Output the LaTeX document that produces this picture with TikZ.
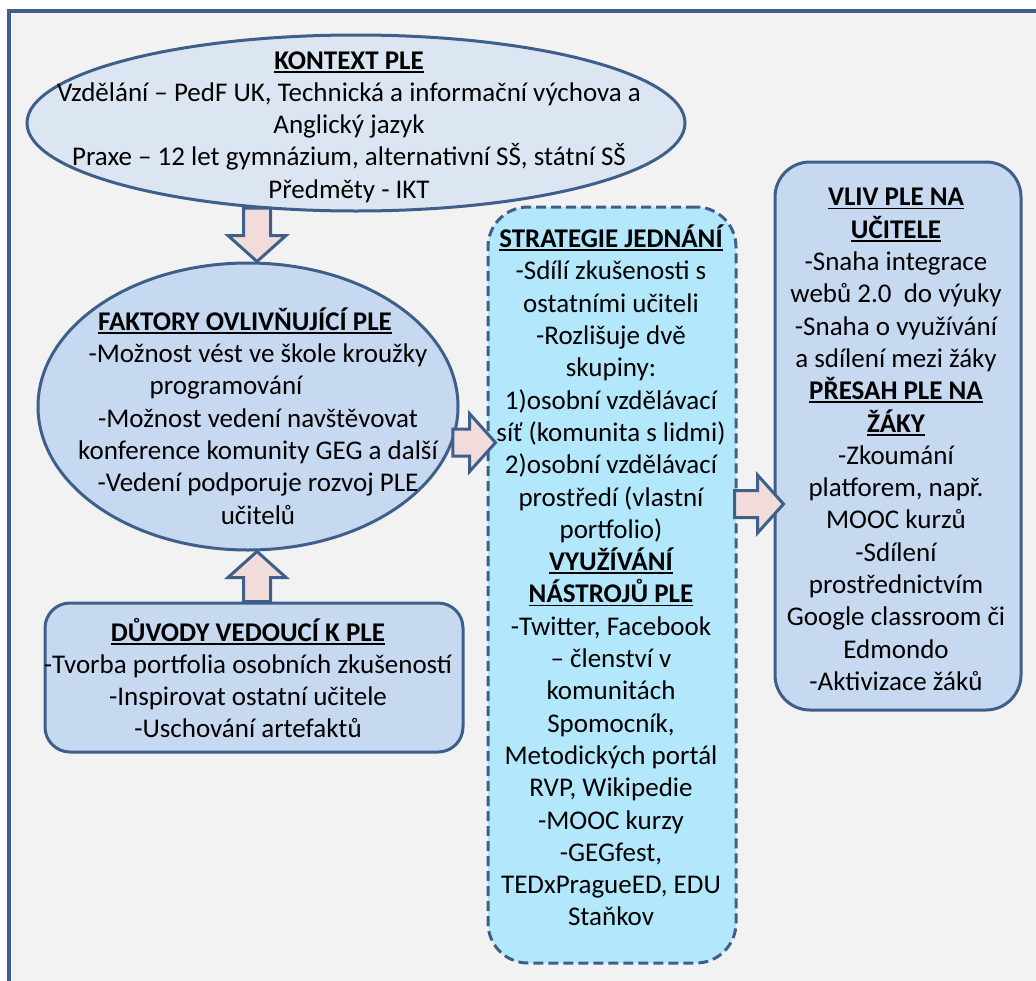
\documentclass[tikz,border=0pt]{standalone}
\usepackage{fontspec}
\setmainfont{Carlito}
\usetikzlibrary{calc,shapes.geometric}

\definecolor{frameblue}{HTML}{3F5F8B}
\definecolor{paneltint}{HTML}{F2F2F2}
\definecolor{palefill}{HTML}{DCE6F2}
\definecolor{bluefill}{HTML}{C6D9F1}
\definecolor{cyanfill}{HTML}{B3E8FC}
\definecolor{pinkfill}{HTML}{F2DCDB}

% bold heading with a thick underline
\newcommand\hd[1]{\setbox0\hbox{\bfseries #1}\rlap{\rule[-3.5pt]{\wd0}{1.8pt}}\box0}

% wide block arrow from #1 to #2
\newcommand\fatarrow[2]{%
  \draw[blockarrow] let \p1=(#1), \p2=(#2),
    \n1={atan2(\y2-\y1,\x2-\x1)}, \n2={veclen(\x2-\x1,\y2-\y1)} in
    ($(\p1)+(\n1+90:13.5pt)$)
    -- ($(\p1)+(\n1:\n2-26pt)+(\n1+90:13.5pt)$)
    -- ($(\p1)+(\n1:\n2-26pt)+(\n1+90:29pt)$)
    -- (\p2)
    -- ($(\p1)+(\n1:\n2-26pt)+(\n1-90:29pt)$)
    -- ($(\p1)+(\n1:\n2-26pt)+(\n1-90:13.5pt)$)
    -- ($(\p1)+(\n1-90:13.5pt)$) -- cycle;}

\tikzset{
  outline/.style={draw=frameblue, line width=3pt},
  oval/.style={outline, ellipse, inner sep=0pt},
  roundbox/.style={outline, rectangle, inner sep=0pt},
  blockarrow/.style={draw=frameblue, line width=3pt, fill=pinkfill, line join=miter},
  txt/.style={align=center, inner sep=0pt, text=black},
}

\begin{document}
\begin{tikzpicture}[x=1pt, y=-1pt, font=\fontsize{27}{32.3}\selectfont]
\useasboundingbox (0,0) rectangle (1036,980);
\fill[white] (0,0) rectangle (1036,980);
\draw[frameblue, line width=4pt, fill=paneltint] (9,11) rectangle (1050,1000);

% shapes
\node[oval, fill=palefill, minimum width=658pt, minimum height=176pt] (kontext) at (356,123) {};
\node[oval, fill=bluefill, minimum width=420pt, minimum height=287pt] (faktory) at (248,406.5) {};
\node[roundbox, fill=bluefill, rounded corners=25pt, minimum width=418pt, minimum height=149pt] (duvody) at (254,677.5) {};
\node[roundbox, fill=cyanfill, dash pattern=on 10pt off 5pt, rounded corners=40pt, minimum width=248pt, minimum height=756pt] (strategie) at (612,585) {};
\node[roundbox, fill=bluefill, rounded corners=35pt, minimum width=246pt, minimum height=548pt] (vliv) at (898,436) {};

% arrow end points
\coordinate (fN) at ([xshift=9pt]faktory.north);
\coordinate (fS) at ([xshift=9pt]faktory.south);
\coordinate (a3t) at (faktory.-10 -| strategie.west);
\coordinate (a4s) at ([yshift=81pt]strategie.east);
\coordinate (a4t) at (a4s -| vliv.west);

\fatarrow{kontext.220 -| fN}{fN}
\fatarrow{duvody.north -| fS}{fS}
\fatarrow{faktory.-10}{[xshift=9pt]a3t}
\fatarrow{[xshift=-3pt]a4s}{[xshift=10pt]a4t}

% texts
\node[txt] (kontextT) at (349,127) {\hd{KONTEXT PLE}\\
Vzdělání – PedF UK, Technická a informační výchova a\\
Anglický jazyk\\
Praxe – 12 let gymnázium, alternativní SŠ, státní SŠ\\
Předměty - IKT};

\node[txt] (faktoryT) at (258,416) {\hd{FAKTORY OVLIVŇUJÍCÍ PLE}\kern26pt\\
-Možnost vést ve škole kroužky\\
programování\kern64pt\\
-Možnost vedení navštěvovat\\
konference komunity GEG a další\\
-Vedení podporuje rozvoj PLE\\
učitelů};

\node[txt] (duvodyT) at (248,678) {\hd{DŮVODY VEDOUCÍ K PLE}\\
-Tvorba portfolia osobních zkušeností\\
-Inspirovat ostatní učitele\\
-Uschování artefaktů};

\node[txt] (strategieT) at (611,575.5) {\hd{STRATEGIE JEDNÁNÍ}\\
-Sdílí zkušenosti s\\
ostatními učiteli\\
-Rozlišuje dvě\\
skupiny:\\
1)osobní vzdělávací\\
síť (komunita s lidmi)\\
2)osobní vzdělávací\\
prostředí (vlastní\\
portfolio)\\
\hd{VYUŽÍVÁNÍ}\\
\hd{NÁSTROJŮ PLE}\\
-Twitter, Facebook\\
– členství v\\
komunitách\\
Spomocník,\\
Metodických portál\\
RVP, Wikipedie\\
-MOOC kurzy\\
-GEGfest,\\
TEDxPragueED, EDU\\
Staňkov};

\node[txt] (vlivT) at (896,439.5) {\hd{VLIV PLE NA}\\
\hd{UČITELE}\\
-Snaha integrace\\
webů 2.0~~do výuky\\
-Snaha o využívání\\
a sdílení mezi žáky\\
\hd{PŘESAH PLE NA}\\
\hd{ŽÁKY}\\
-Zkoumání\\
platforem, např.\\
MOOC kurzů\\
-Sdílení\\
prostřednictvím\\
Google classroom či\\
Edmondo\\
-Aktivizace žáků};
\end{tikzpicture}
\end{document}
